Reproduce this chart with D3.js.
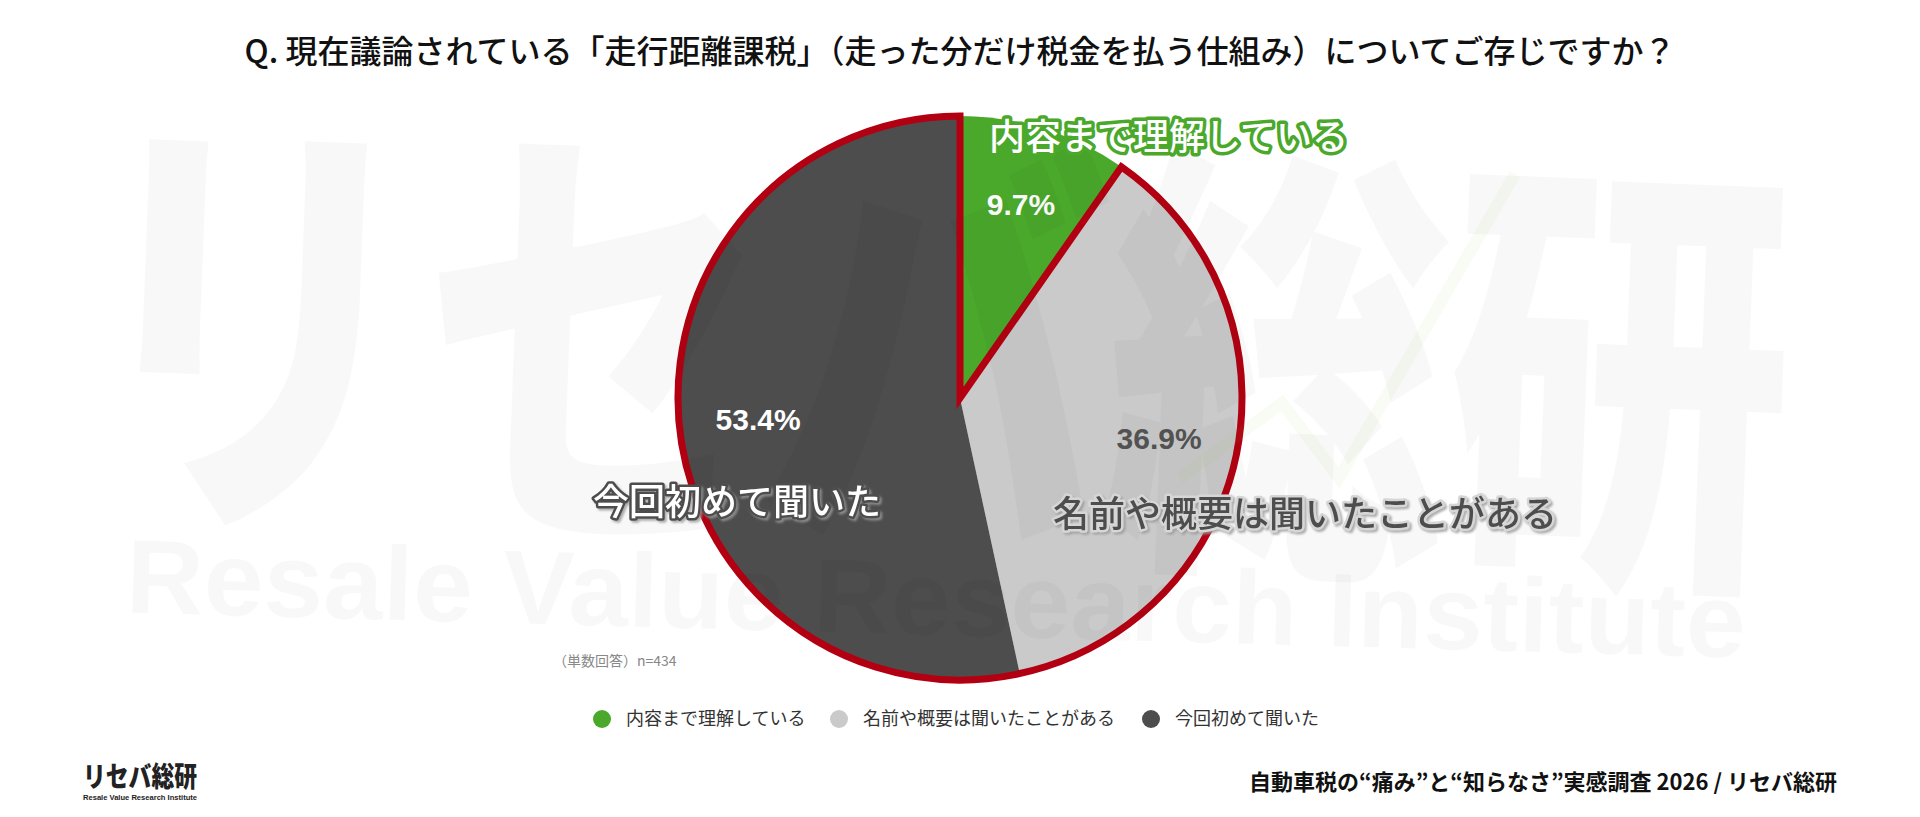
<!DOCTYPE html>
<meta charset="utf-8">
<html>
  <head>
    <style>
      body { margin: 0; background: #fff; }
      #chart { width: 1920px; height: 817px; }
      text { font-family: "Noto Sans CJK JP", "Noto Sans", sans-serif; }
      .pct { font-family: "Liberation Sans", Arial, sans-serif; font-weight: bold; font-size: 30px; }
      .callout { font-size: 36px; font-weight: 500; paint-order: stroke; stroke-linejoin: round; }
    </style>
    <script src="https://d3js.org/d3.v7.min.js"></script>
  </head>
  <body>
<div id="chart"></div>

<script>
// data
var categories = ["内容まで理解している", "名前や概要は聞いたことがある", "今回初めて聞いた"];
var shares = [9.7, 36.9, 53.4];
var sliceColors = ["#4aa82b", "#cacaca", "#4d4d4d"];
var titleText = "Q. 現在議論されている「走行距離課税」（走った分だけ税金を払う仕組み）についてご存じですか？";
var noteText = "（単数回答）n=434";
var footerText = "自動車税の“痛み”と“知らなさ”実感調査 2026 / リセバ総研";

var width = 1920, height = 817,
  cx = 960, cy = 398, r = 282;

var svg = d3.select("#chart").append("svg")
  .attr("width", width)
  .attr("height", height);

var defs = svg.append("defs");
var shadow = defs.append("filter").attr("id", "shadow")
  .attr("x", "-10%").attr("y", "-30%").attr("width", "120%").attr("height", "160%");
shadow.append("feDropShadow")
  .attr("dx", 2).attr("dy", 2).attr("stdDeviation", 1)
  .attr("flood-color", "#999").attr("flood-opacity", 0.8);

var color = d3.scaleOrdinal().domain(categories).range(sliceColors);

// title
svg.append("text")
  .attr("x", width / 2)
  .attr("y", 63)
  .attr("text-anchor", "middle")
  .style("font-size", "32px")
  .style("font-weight", 500)
  .style("fill", "#111")
  .text(titleText);

// pie
var pie = d3.pie().sort(null).value(function(d) { return d; });
var arcs = pie(shares);
var arc = d3.arc().innerRadius(0).outerRadius(r);
var labelArc = d3.arc().innerRadius(r * 0.72).outerRadius(r * 0.72);

var g = svg.append("g").attr("transform", "translate(" + cx + "," + cy + ")");

g.selectAll("path.slice")
  .data(arcs)
  .enter()
  .append("path")
  .attr("class", "slice")
  .attr("d", arc)
  .style("fill", function(d, i) { return color(categories[i]); });

// red outline around the two "not understood" slices
g.append("path")
  .attr("d", arc({startAngle: arcs[1].startAngle, endAngle: arcs[2].endAngle}))
  .style("fill", "none")
  .style("stroke", "#b20012")
  .style("stroke-width", 7)
  .style("stroke-linejoin", "miter");

// faint watermark on top
var wm = svg.append("g").style("pointer-events", "none");
wm.append("text")
  .attr("x", 929).attr("y", 523)
  .attr("text-anchor", "middle")
  .attr("transform", "rotate(2.2,929,523)")
  .attr("textLength", 1712)
  .attr("lengthAdjust", "spacingAndGlyphs")
  .style("font-size", "455px")
  .style("font-weight", 900)
  .style("fill", "#000")
  .style("fill-opacity", 0.028)
  .text("リセバ総研");
wm.append("path")
  .attr("d", "M1180,478 L1282,403 L1339,478 L1515,174")
  .style("fill", "none")
  .style("stroke", "#8fc31f")
  .style("stroke-opacity", 0.05)
  .style("stroke-width", 12);
wm.append("text")
  .attr("x", 935).attr("y", 635)
  .attr("text-anchor", "middle")
  .attr("transform", "rotate(1.6,935,635)")
  .attr("textLength", 1620)
  .attr("lengthAdjust", "spacingAndGlyphs")
  .style("font-family", "'Liberation Sans', Arial, sans-serif")
  .style("font-size", "105px")
  .style("font-weight", "bold")
  .style("fill", "#000")
  .style("fill-opacity", 0.028)
  .text("Resale Value Research Institute");

// percentage labels
g.selectAll("text.pct")
  .data(arcs)
  .enter()
  .append("text")
  .attr("class", "pct")
  .attr("transform", function(d) { return "translate(" + labelArc.centroid(d) + ")"; })
  .attr("text-anchor", "middle")
  .attr("dy", "0.36em")
  .style("fill", function(d, i) { return i === 1 ? "#555" : "#fff"; })
  .text(function(d) { return d.data.toFixed(1) + "%"; });

// category callouts
var callouts = svg.append("g");
callouts.append("text")
  .attr("class", "callout")
  .attr("x", cx + 29).attr("y", cy - 248)
  .style("fill", "#fff")
  .style("stroke", "#4aa82b")
  .style("stroke-width", 7)
  .text(categories[0]);

callouts.append("text")
  .attr("class", "callout")
  .attr("x", cx + 93).attr("y", cy + 129)
  .attr("filter", "url(#shadow)")
  .style("fill", "#4d4d4d")
  .style("stroke", "#d6d6d6")
  .style("stroke-width", 5)
  .text(categories[1]);

callouts.append("text")
  .attr("class", "callout")
  .attr("x", cx - 367).attr("y", cy + 117)
  .attr("filter", "url(#shadow)")
  .style("fill", "#fff")
  .style("stroke", "#4d4d4d")
  .style("stroke-width", 5)
  .text(categories[2]);

// note
svg.append("text")
  .attr("x", 553).attr("y", 666)
  .style("font-size", "14px")
  .style("fill", "#888")
  .text(noteText);

// legend
var legendX = [602, 839, 1151];
var legend = svg.append("g").selectAll("g")
  .data(categories)
  .enter()
  .append("g")
  .attr("transform", function(d, i) { return "translate(" + legendX[i] + ",719)"; });
legend.append("circle")
  .attr("r", 9)
  .style("fill", function(d) { return color(d); });
legend.append("text")
  .attr("x", 24)
  .attr("dy", "0.35em")
  .style("font-size", "18px")
  .style("fill", "#333")
  .text(function(d) { return d; });

// footer logo
svg.append("text")
  .attr("x", 83).attr("y", 787)
  .attr("textLength", 114)
  .attr("lengthAdjust", "spacingAndGlyphs")
  .style("font-size", "28px")
  .style("font-weight", 900)
  .style("fill", "#222")
  .text("リセバ総研");
svg.append("text")
  .attr("x", 83).attr("y", 800)
  .attr("textLength", 114)
  .attr("lengthAdjust", "spacingAndGlyphs")
  .style("font-family", "'Liberation Sans', Arial, sans-serif")
  .style("font-size", "7px")
  .style("font-weight", "bold")
  .style("fill", "#222")
  .text("Resale Value Research Institute");

svg.append("text")
  .attr("x", 1837).attr("y", 790)
  .attr("text-anchor", "end")
  .style("font-size", "22px")
  .style("font-weight", 700)
  .style("fill", "#111")
  .text(footerText);
</script>
</body>
</html>
